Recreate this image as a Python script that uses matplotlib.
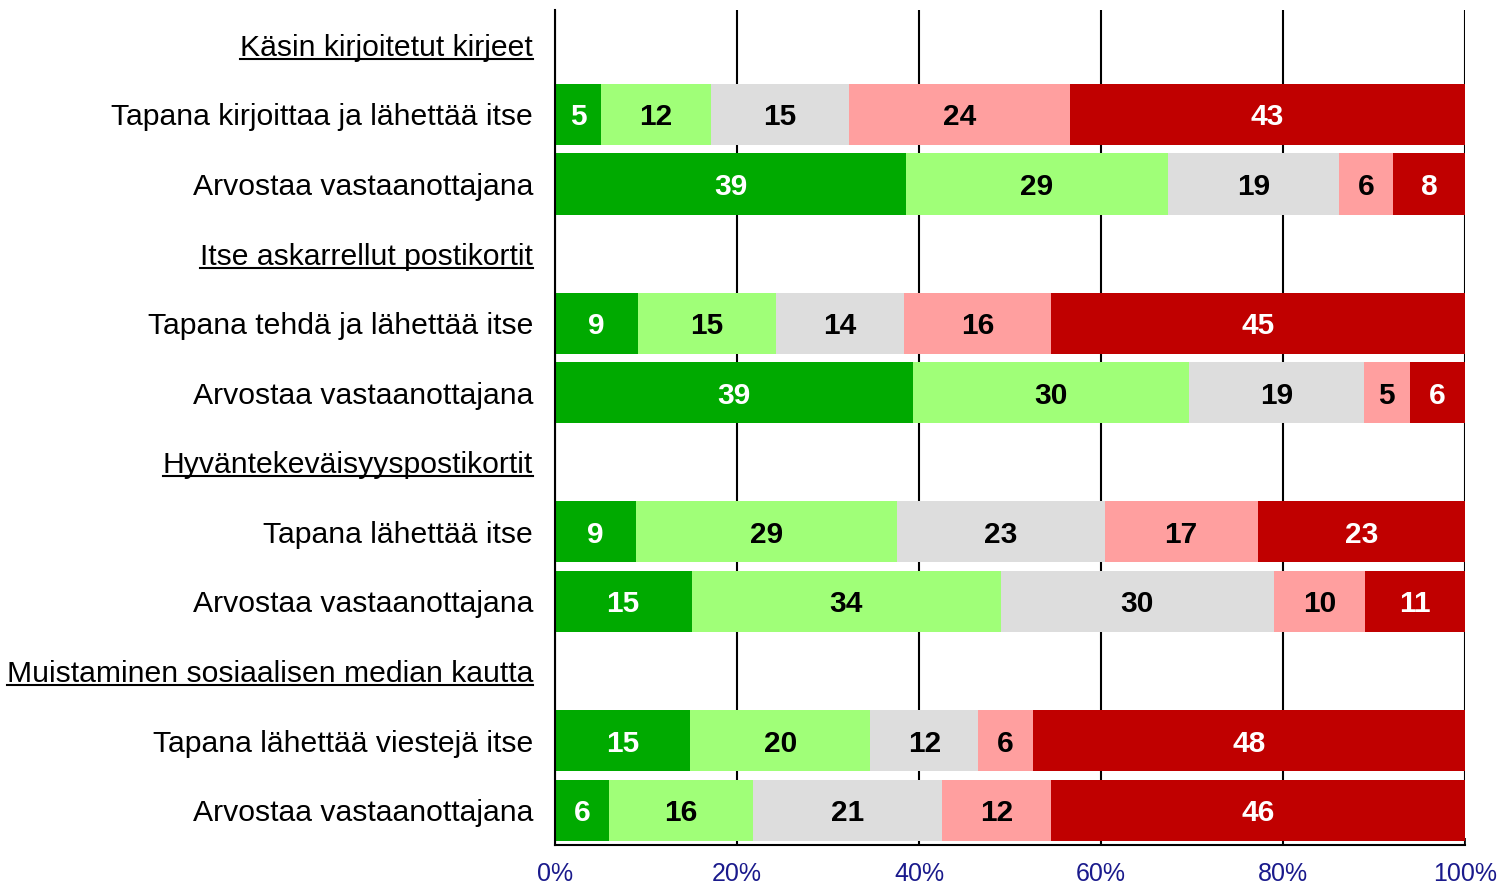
import matplotlib
matplotlib.use("Agg")
import matplotlib.pyplot as plt
from matplotlib.lines import Line2D
import numpy as np

plt.rcParams['font.family'] = ['Liberation Sans', 'DejaVu Sans']

row_labels = [
    "Käsin kirjoitetut kirjeet",
    "Tapana kirjoittaa ja lähettää itse",
    "Arvostaa vastaanottajana",
    "Itse askarrellut postikortit",
    "Tapana tehdä ja lähettää itse",
    "Arvostaa vastaanottajana",
    "Hyväntekeväisyyspostikortit",
    "Tapana lähettää itse",
    "Arvostaa vastaanottajana",
    "Muistaminen sosiaalisen median kautta",
    "Tapana lähettää viestejä itse",
    "Arvostaa vastaanottajana",
]
is_header = [True, False, False, True, False, False, True, False, False, True, False, False]

# values per category (None for header rows)
cat1 = [None, 5, 39, None, 9, 39, None, 9, 15, None, 15, 6]
cat2 = [None, 12, 29, None, 15, 30, None, 29, 34, None, 20, 16]
cat3 = [None, 15, 19, None, 14, 19, None, 23, 30, None, 12, 21]
cat4 = [None, 24, 6, None, 16, 5, None, 17, 10, None, 6, 12]
cat5 = [None, 43, 8, None, 45, 6, None, 23, 11, None, 48, 46]

colors = ["#00AA00", "#A0FF78", "#DDDDDD", "#FF9F9F", "#C00000"]
text_colors = ["white", "black", "black", "black", "white"]
xticks = [0, 20, 40, 60, 80, 100]
xticklabels = ["0%", "20%", "40%", "60%", "80%", "100%"]

W, H = 1499, 885
fig = plt.figure(figsize=(W / 100, H / 100), dpi=100)
ax = fig.add_axes([555 / W, 1 - 845 / H, (1465 - 555) / W, (845 - 10) / H])

series = [cat1, cat2, cat3, cat4, cat5]
n = len(row_labels)
for i in range(n):
    if is_header[i]:
        continue
    vals = np.array([s[i] for s in series], dtype=float)
    pct = vals / vals.sum() * 100
    left = 0.0
    for k in range(5):
        ax.barh(i, pct[k], left=left, height=0.88, color=colors[k], zorder=2, linewidth=0)
        ax.text(left + pct[k] / 2, i, f"{int(vals[k])}", ha="center", va="center_baseline",
                fontsize=21.5, fontweight="bold", color=text_colors[k], zorder=3)
        left += pct[k]

ax.set_xlim(0, 100)
ax.set_ylim(n - 0.5, -0.5)
ax.set_yticks([])
ax.set_xticks(xticks)
ax.set_xticklabels(xticklabels, fontsize=18, color="#1A1A8C")
ax.tick_params(axis="x", direction="in", length=5, width=1.2, pad=12, colors="black",
               labelcolor="#1A1A8C")
ax.xaxis.grid(True, color="black", linewidth=1.5, zorder=0)
ax.set_axisbelow(True)
for s in ["top", "right"]:
    ax.spines[s].set_visible(False)
ax.spines["left"].set_linewidth(1.5)
ax.spines["bottom"].set_linewidth(1.5)

# row labels
texts = []
for i, lab in enumerate(row_labels):
    t = ax.text(-2.4, i, lab, ha="right", va="center_baseline",
                fontsize=21.7, color="black", clip_on=False)
    texts.append(t)

fig.canvas.draw()
renderer = fig.canvas.get_renderer()
for t, h in zip(texts, is_header):
    if h:
        bb = t.get_window_extent(renderer=renderer)
        x0, x1 = bb.x0 / fig.bbox.width, bb.x1 / fig.bbox.width
        y = (bb.y0 + 3) / fig.bbox.height
        fig.add_artist(Line2D([x0, x1], [y, y], color="black", linewidth=1.5,
                              transform=fig.transFigure))

fig.savefig("out.png", dpi=100)
